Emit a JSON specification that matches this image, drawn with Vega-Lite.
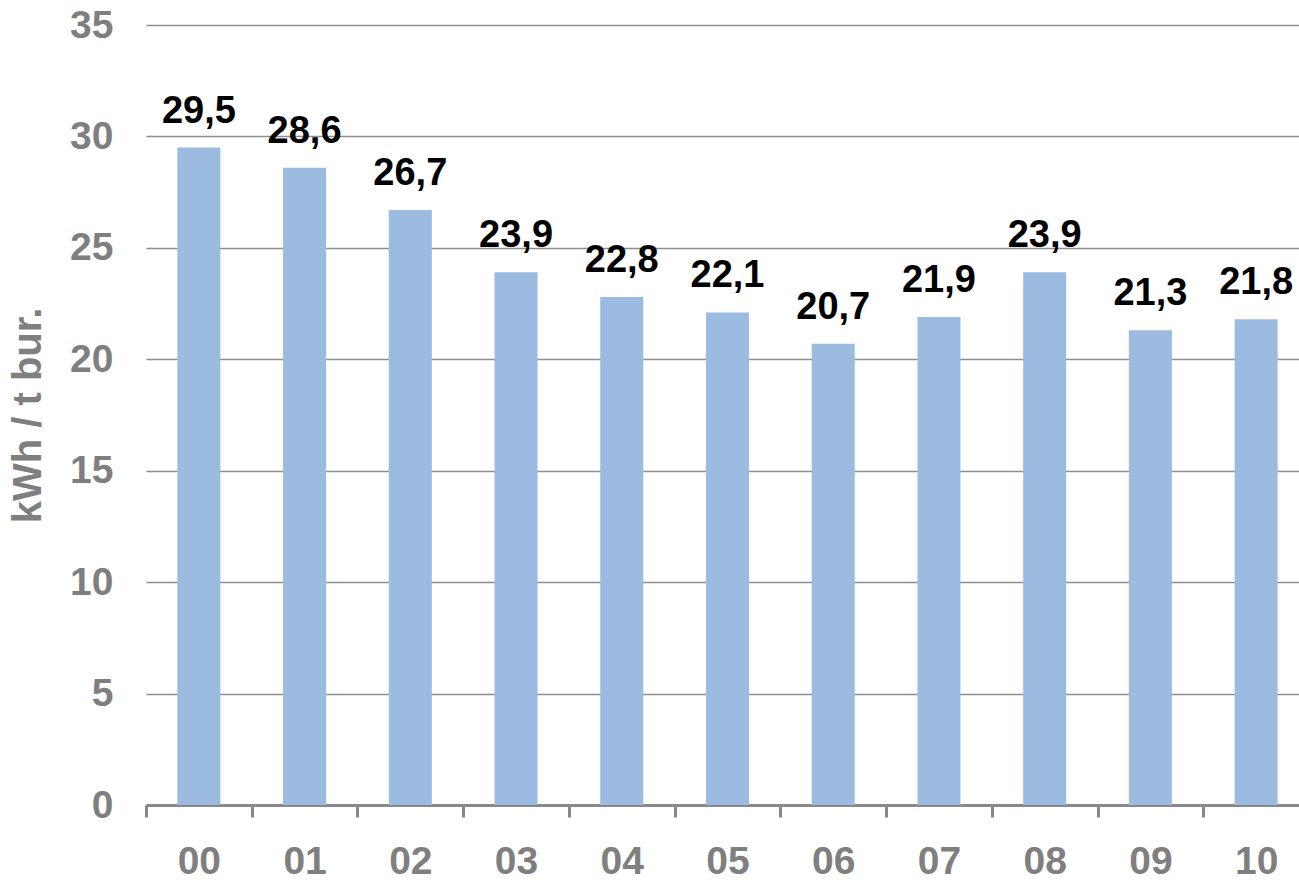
{
  "$schema": "https://vega.github.io/schema/vega-lite/v6.json",
  "autosize": {"type": "none"},
  "padding": {"left": 146, "top": 25, "right": 0, "bottom": 75},
  "width": 1153,
  "height": 780,
  "background": "white",
  "config": {
    "locale": {"number": {"decimal": ",", "thousands": ".", "grouping": [3], "currency": ["", " €"]}},
    "view": {"stroke": null},
    "font": "Liberation Sans"
  },
  "data": {
    "values": [
      {"year": "00", "value": 29.5},
      {"year": "01", "value": 28.6},
      {"year": "02", "value": 26.7},
      {"year": "03", "value": 23.9},
      {"year": "04", "value": 22.8},
      {"year": "05", "value": 22.1},
      {"year": "06", "value": 20.7},
      {"year": "07", "value": 21.9},
      {"year": "08", "value": 23.9},
      {"year": "09", "value": 21.3},
      {"year": "10", "value": 21.8}
    ]
  },
  "encoding": {
    "x": {
      "field": "year", "type": "nominal", "sort": null,
      "scale": {"paddingInner": 0, "paddingOuter": 0, "range": [0, 1163]},
      "axis": {
        "title": null, "labelAngle": 0,
        "labelFont": "Liberation Sans", "labelFontSize": 39, "labelFontWeight": "bold", "labelColor": "#7f7f7f",
        "labelPadding": 25,
        "domainColor": "#898989", "domainWidth": 3,
        "tickBand": "extent", "tickColor": "#898989", "tickWidth": 3, "tickSize": 12,
        "grid": false
      }
    },
    "y": {
      "field": "value", "type": "quantitative",
      "scale": {"domain": [0, 35], "nice": false},
      "axis": {
        "title": "kWh / t bur.",
        "titleFont": "Liberation Sans", "titleFontSize": 40, "titleFontWeight": "bold", "titleColor": "#7f7f7f",
        "titlePadding": 21,
        "values": [0, 5, 10, 15, 20, 25, 30, 35],
        "labelFont": "Liberation Sans", "labelFontSize": 39, "labelFontWeight": "bold", "labelColor": "#7f7f7f",
        "labelPadding": 33,
        "domain": false, "ticks": false,
        "grid": true, "gridColor": "#8e8e8e", "gridWidth": 1.5
      }
    }
  },
  "layer": [
    {"mark": {"type": "bar", "color": "#9bbbe1", "width": {"band": 0.407}}},
    {
      "mark": {"type": "text", "baseline": "alphabetic", "dy": -25, "font": "Liberation Sans", "fontSize": 38, "fontWeight": "bold", "color": "#000000"},
      "encoding": {"text": {"field": "value", "type": "quantitative", "format": ".1f"}}
    }
  ]
}
